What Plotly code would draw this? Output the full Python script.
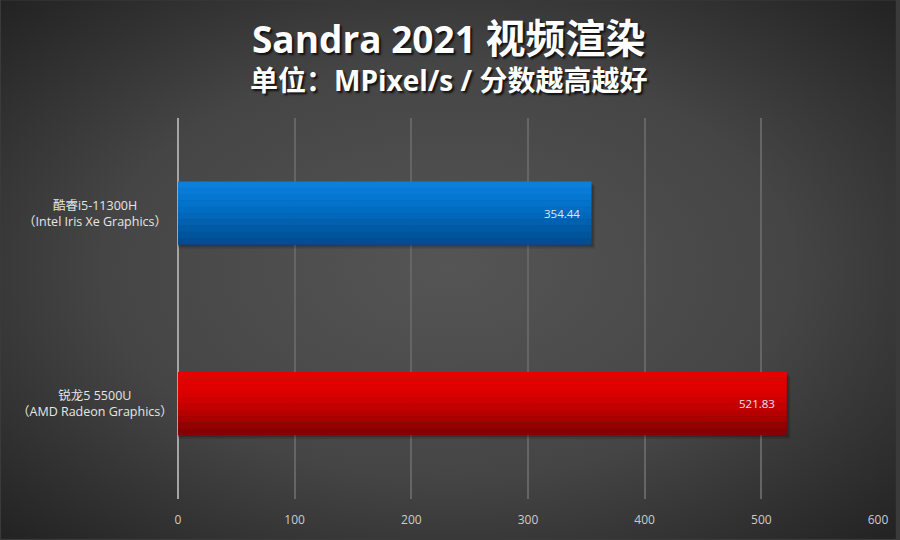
import base64
import plotly.graph_objects as go

# data
categories = ["锐龙5 5500U", "酷睿i5-11300H"]
sub_labels = ["（AMD Radeon Graphics）", "（Intel Iris Xe Graphics）"]
scores = [521.83, 354.44]
score_text = ["521.83", "354.44"]
x_ticks = [0, 100, 200, 300, 400, 500, 600]

# gradient stops (top -> bottom) for each bar
bar_grads = [
    ["#e60000", "#e30000", "#df0000", "#d80000", "#cf0000", "#c40000", "#b60000", "#a60000", "#950000", "#850000"],
    ["#0a7fdc", "#077bd7", "#0477d2", "#0272cb", "#006dc3", "#0067ba", "#0061b0", "#005aa6", "#00549c", "#004d92"],
]

W, H = 900, 540
ML, MR, MT, MB = 178, 18, 118, 40
pw, ph = W - ML - MR, H - MT - MB

bg_svg = f'''<svg xmlns="http://www.w3.org/2000/svg" width="{W}" height="{H}">
<defs><radialGradient id="g" cx="50%" cy="50%" r="70%">
<stop offset="0%" stop-color="#555555"/><stop offset="55%" stop-color="#454545"/>
<stop offset="100%" stop-color="#232323"/></radialGradient></defs>
<rect width="{W}" height="{H}" fill="url(#g)"/></svg>'''
bg_src = "data:image/svg+xml;base64," + base64.b64encode(bg_svg.encode()).decode()

fig = go.Figure()

bw = 0.33
n = len(bar_grads[0])
yidx = list(range(len(categories)))

# soft shadow
for sx, so, op in [(3, 0.02, 0.12), (1.5, 0.01, 0.18)]:
    fig.add_trace(go.Bar(
        y=yidx, x=[v + sx for v in scores], base=0, orientation="h",
        width=bw, offset=-bw / 2 - so,
        marker=dict(color=f"rgba(0,0,0,{op})", line_width=0),
        hoverinfo="skip", showlegend=False,
    ))

# gradient strips
for i in range(n):
    off = bw / 2 - (i + 1) * bw / n
    for k, cat in enumerate(yidx):
        fig.add_trace(go.Bar(
            y=[cat], x=[scores[k]], orientation="h",
            width=bw / n + 0.002, offset=off,
            marker=dict(color=bar_grads[k][i], line_width=0),
            hoverinfo="skip", showlegend=False,
        ))

cx = (W / 2 - ML) / pw  # figure centre in paper coords

annos = []
for k, cat in enumerate(yidx):
    annos.append(dict(
        x=scores[k], y=cat, xref="x", yref="y", text=score_text[k],
        xanchor="right", xshift=-10, showarrow=False,
        font=dict(family="Open Sans, sans-serif", size=11.5, color="#e4e7ee"),
    ))
    annos.append(dict(
        x=-0.118, y=cat, xref="paper", yref="y",
        text=f"{categories[k]}<br>{sub_labels[k]}",
        xanchor="center", yanchor="middle", showarrow=False, align="center",
        font=dict(family="Open Sans, Noto Sans CJK SC, sans-serif", size=12.5, color="#e6e6e6"),
    ))

# title + subtitle as one block
annos.append(dict(
    x=cx, xref="paper", xanchor="center", y=(H - MB - 54) / ph, yref="paper", yanchor="middle",
    align="center", showarrow=False,
    text=("<b><span style='font-size:37px'>Sandra 2021 </span>"
          "<span style='font-size:40px'>视频渲染</span></b><br>"
          "<b><span style='font-size:28px'>单位：MPixel/s / 分数越高越好</span></b>"),
    font=dict(family="Open Sans, Noto Sans CJK SC, sans-serif", size=29, color="#ffffff",
              shadow="2px 2px 2px #111"),
))

fig.update_layout(
    width=W, height=H,
    margin=dict(l=ML, r=MR, t=MT, b=MB),
    paper_bgcolor="#3a3a3a",
    plot_bgcolor="rgba(0,0,0,0)",
    barmode="overlay",
    showlegend=False,
    annotations=annos,
    images=[dict(
        source=bg_src, xref="paper", yref="paper",
        x=-ML / pw, y=1 + MT / ph, sizex=W / pw, sizey=H / ph,
        sizing="stretch", xanchor="left", yanchor="top", layer="below",
    )],
    xaxis=dict(
        range=[0, 600], tickvals=x_ticks, showgrid=True, gridcolor="#656565", gridwidth=2,
        zeroline=True, zerolinecolor="#a5a5a5", zerolinewidth=1.5,
        showline=False, ticks="", ticklabelstandoff=12,
        tickfont=dict(family="Open Sans, sans-serif", size=12, color="#cccccc"),
    ),
    yaxis=dict(
        range=[-0.5, 1.5], showticklabels=False, showgrid=False, zeroline=False,
        showline=False, ticks="",
    ),
)

fig.write_html("out.html", config={"displayModeBar": False},
               post_script="document.body.style.margin='0';")
